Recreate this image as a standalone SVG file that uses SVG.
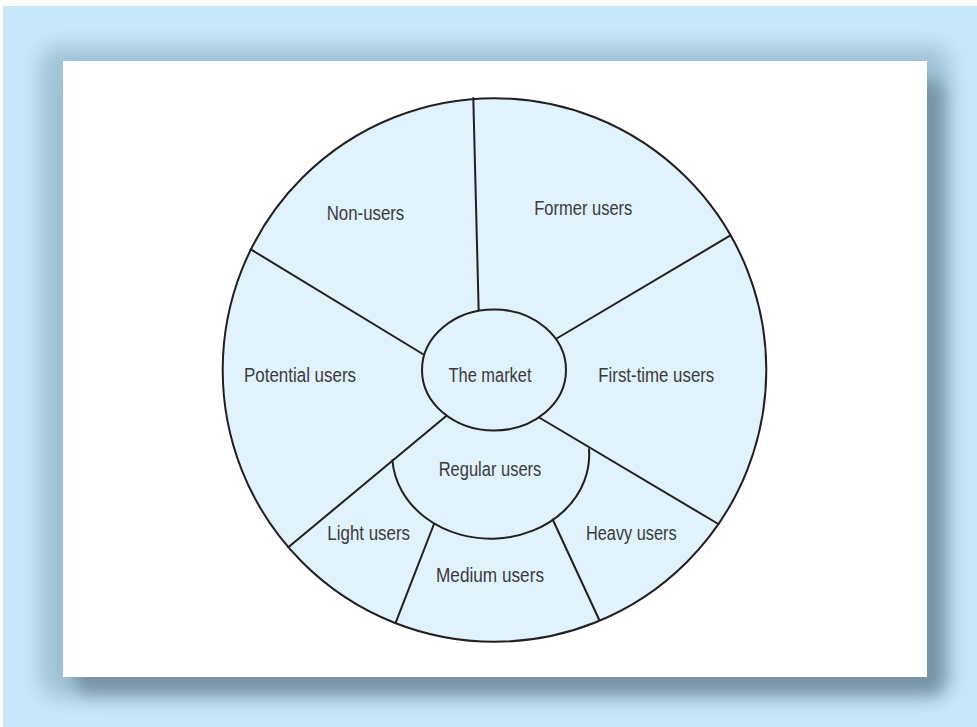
<svg xmlns="http://www.w3.org/2000/svg" width="977" height="727" viewBox="0 0 977 727">
  <defs>
    <filter id="blurA" x="-10%" y="-10%" width="120%" height="120%">
      <feGaussianBlur stdDeviation="10"/>
    </filter>
    <filter id="blurB" x="-10%" y="-10%" width="120%" height="120%">
      <feGaussianBlur stdDeviation="8"/>
    </filter>
    <style>
      .seg { fill: none; stroke: #231f20; stroke-width: 2; stroke-linecap: round; }
      .area { fill: #e0f2fc; stroke: #231f20; stroke-width: 2; }
      .lbl { font-family: "Liberation Sans", Arial, sans-serif; font-size: 20px; fill: #3a3a3c; text-anchor: middle; }
    </style>
  </defs>

  <g id="background">
    <rect x="0" y="0" width="977" height="727" fill="#ffffff"/>
    <rect x="3" y="6" width="974" height="721" fill="#c6e8f9"/>
    <rect x="40" y="46" width="910" height="652" rx="18" fill="#a0c2d5" filter="url(#blurA)"/>
    <rect x="75" y="80" width="870" height="615" rx="14" fill="#4f6775" opacity="0.5" filter="url(#blurB)"/>
    <rect x="63" y="61" width="864" height="616" fill="#ffffff"/>
  </g>

  <g id="wheel">
    <circle class="area" cx="494.5" cy="370" r="271.8"/>
  </g>

  <g id="connectors">
    <line class="seg" x1="473.3" y1="98" x2="478.7" y2="312"/>
    <line class="seg" x1="250.7" y1="249.3" x2="426" y2="356"/>
    <line class="seg" x1="730" y1="235.7" x2="555" y2="339.5"/>
    <line class="seg" x1="288.3" y1="547.3" x2="448" y2="414.5"/>
    <line class="seg" x1="718.3" y1="524" x2="537.5" y2="416.5"/>
    <line class="seg" x1="433.8" y1="524.5" x2="395.7" y2="622.7"/>
    <line class="seg" x1="552.7" y1="519.5" x2="599.3" y2="620"/>
  </g>

  <g id="regular-users">
    <path class="seg" d="M392.4,460 A98.5,84 0 1 0 589,449.3"/>
    <text class="lbl" x="490" y="475.5" textLength="102.6" lengthAdjust="spacingAndGlyphs">Regular users</text>
  </g>

  <g id="the-market">
    <ellipse class="area" cx="494" cy="370" rx="72" ry="60.5"/>
    <text class="lbl" x="490" y="381.7" textLength="83" lengthAdjust="spacingAndGlyphs">The market</text>
  </g>

  <g id="non-users">
    <text class="lbl" x="365.5" y="219.5" textLength="77.6" lengthAdjust="spacingAndGlyphs">Non-users</text>
  </g>
  <g id="former-users">
    <text class="lbl" x="583.3" y="215" textLength="98" lengthAdjust="spacingAndGlyphs">Former users</text>
  </g>
  <g id="potential-users">
    <text class="lbl" x="300" y="382" textLength="112" lengthAdjust="spacingAndGlyphs">Potential users</text>
  </g>
  <g id="first-time-users">
    <text class="lbl" x="656.3" y="382" textLength="116" lengthAdjust="spacingAndGlyphs">First-time users</text>
  </g>
  <g id="light-users">
    <text class="lbl" x="368.7" y="540" textLength="82.7" lengthAdjust="spacingAndGlyphs">Light users</text>
  </g>
  <g id="medium-users">
    <text class="lbl" x="490" y="581.7" textLength="108" lengthAdjust="spacingAndGlyphs">Medium users</text>
  </g>
  <g id="heavy-users">
    <text class="lbl" x="631.3" y="540" textLength="90.7" lengthAdjust="spacingAndGlyphs">Heavy users</text>
  </g>
</svg>
